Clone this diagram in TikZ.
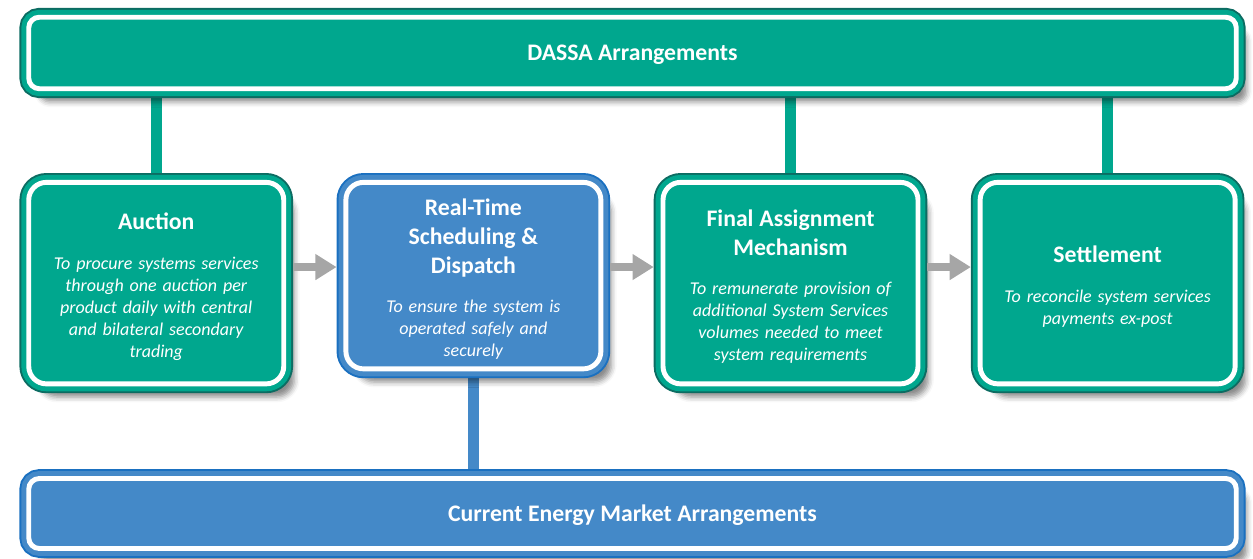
\documentclass[tikz,border=0pt]{standalone}
\usepackage{fontspec}
\setmainfont{Carlito}
\usetikzlibrary{positioning, arrows.meta, shadows.blur, backgrounds}

\definecolor{dassateal}{RGB}{0,167,142}
\definecolor{dassarim}{RGB}{12,108,98}
\definecolor{cemblue}{RGB}{68,137,200}
\definecolor{cemrim}{RGB}{26,112,192}
\definecolor{flowgrey}{RGB}{166,166,166}

\newcommand{\bannerfont}{\fontsize{13.5}{16.5}\selectfont\bfseries}
\newcommand{\boxtitle}[1]{{\fontsize{13.5}{16.5}\selectfont\bfseries\rule{0pt}{13.5pt}#1\par}}
\newcommand{\boxtext}[1]{{\fontsize{10.25}{12.5}\selectfont\itshape #1\par}}

\begin{document}
\begin{tikzpicture}[
    panel/.style 2 args={blur shadow={shadow xshift=6pt,shadow yshift=-7.5pt,shadow blur radius=3pt,shadow opacity=45},
      preaction={draw=#2,line width=10.6pt},
      fill=#1,draw=#1,line width=2.8pt,double=white,double distance=2.8pt,
      text=white,outer sep=5.3pt,inner sep=0pt},
    stage/.style 2 args={panel={#1}{#2},rounded corners=10pt,minimum width=5.1cm,minimum height=4.03cm,text width=4.7cm,align=center},
    banner/.style 2 args={panel={#1}{#2},rounded corners=6pt,minimum width=24.15cm,minimum height=1.43cm,text depth=-0.5pt,font=\bannerfont},
    link/.style={draw=#1,line width=6.3pt},
    flow/.style={draw=flowgrey,line width=4.6pt,-{Triangle[length=12pt,width=14pt]}}
  ]
  \useasboundingbox (0,0) rectangle (25.06,11.18);

  \node[banner={dassateal}{dassarim}] (dassa) at (12.65,10.12) {DASSA Arrangements};

  \node[stage={dassateal}{dassarim},below=1.5cm of dassa.south west,anchor=north west] (auction)
    {\boxtitle{Auction}\vspace{10pt}\boxtext{To procure systems services\\ through one auction per\\ product daily with central\\ and bilateral secondary\\ trading}};
  \node[stage={cemblue}{cemrim},minimum height=3.73cm,right=0.87cm of auction.north east,anchor=north west] (rtsd)
    {\boxtitle{Real-Time\\ Scheduling \&\\ Dispatch}\vspace{10pt}\boxtext{To ensure the system is\\ operated safely and\\ securely}};
  \node[stage={dassateal}{dassarim},right=0.87cm of rtsd.north east,anchor=north west] (fam)
    {\boxtitle{Final Assignment\\ Mechanism}\vspace{10pt}\boxtext{To remunerate provision of\\ additional System Services\\ volumes needed to meet\\ system requirements}};
  \node[stage={dassateal}{dassarim},right=0.87cm of fam.north east,anchor=north west] (settle)
    {\boxtitle{Settlement}\vspace{10pt}\boxtext{To reconcile system services\\ payments ex-post}};

  \node[banner={cemblue}{cemrim},minimum height=1.4cm,below=1.52cm of auction.south west,anchor=north west] (cema)
    {Current Energy Market Arrangements};

  % vertical links
  \begin{scope}[on background layer]
    \draw[link=dassateal] (auction.north) -- (auction.north |- dassa.south);
    \draw[link=dassateal] (fam.north) -- (fam.north |- dassa.south);
    \draw[link=dassateal] (settle.north) -- (settle.north |- dassa.south);
    \draw[link=cemblue] (rtsd.south) -- (rtsd.south |- cema.north);
  \end{scope}

  % process flow
  \draw[flow] ([yshift=-1.88cm]auction.north east) -- ([yshift=-1.88cm]rtsd.north west);
  \draw[flow] ([yshift=-1.88cm]rtsd.north east) -- ([yshift=-1.88cm]fam.north west);
  \draw[flow] ([yshift=-1.88cm]fam.north east) -- ([yshift=-1.88cm]settle.north west);
\end{tikzpicture}
\end{document}
